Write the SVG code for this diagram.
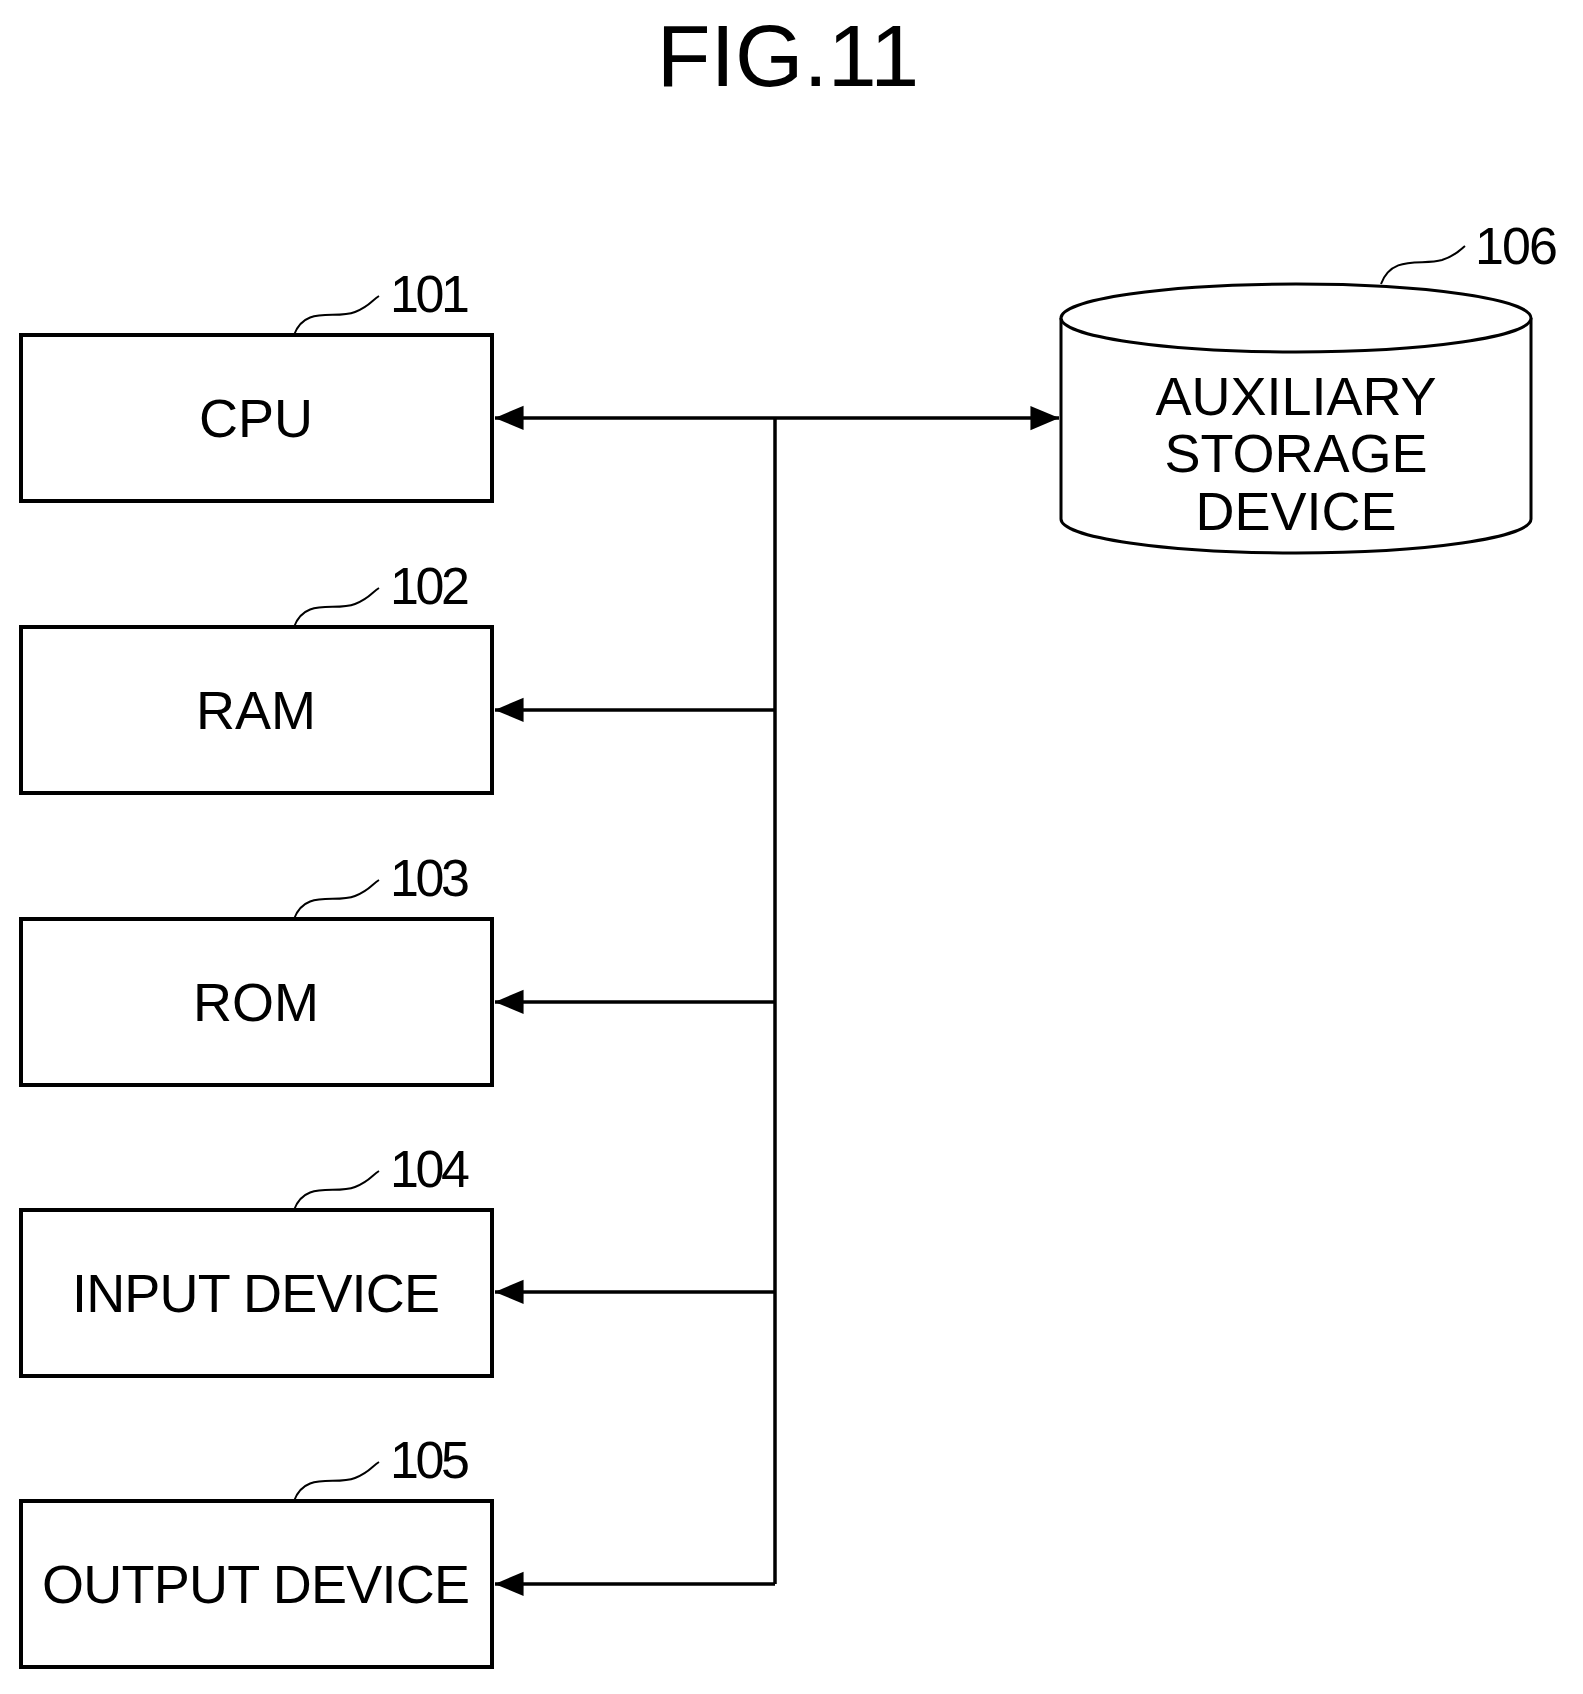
<svg xmlns="http://www.w3.org/2000/svg" width="1583" height="1694" viewBox="0 0 1583 1694">
<style>
text{font-family:"Liberation Sans",Arial,sans-serif;fill:#000}
.box{fill:#fff;stroke:#000;stroke-width:4}
.lbl{font-size:54px;text-anchor:middle}
.num{font-size:52px}
.lead{fill:none;stroke:#000;stroke-width:2}
.bus{fill:none;stroke:#000;stroke-width:3.5}
</style>
<defs>
<marker id="ah" viewBox="0 0 10 10" refX="10" refY="5" markerWidth="10" markerHeight="9" markerUnits="userSpaceOnUse" orient="auto" style="overflow:visible">
<path d="M0,0 L10,5 L0,10 z" fill="#000" transform="scale(3.2,2.7) translate(-6.8,-3.1)"/>
</marker>
</defs>
<rect width="1583" height="1694" fill="#fff"/>
<text x="788" y="86" font-size="88" text-anchor="middle">FIG.11</text>
<g id="cpu"><rect class="box" x="21" y="335" width="471" height="166"/><text class="lbl" x="256" y="437">CPU</text><path class="lead" d="M294,335 C305,305 335,320 355,312 C370,306 372,300 379,296"/><text class="num" x="390" y="312" textLength="80">101</text></g>
<g id="ram"><rect class="box" x="21" y="627" width="471" height="166"/><text class="lbl" x="256" y="729">RAM</text><path class="lead" d="M294,627 C305,597 335,612 355,604 C370,598 372,592 379,588"/><text class="num" x="390" y="604" textLength="80">102</text></g>
<g id="rom"><rect class="box" x="21" y="919" width="471" height="166"/><text class="lbl" x="256" y="1021">ROM</text><path class="lead" d="M294,919 C305,889 335,904 355,896 C370,890 372,884 379,880"/><text class="num" x="390" y="896" textLength="80">103</text></g>
<g id="input"><rect class="box" x="21" y="1210" width="471" height="166"/><text class="lbl" x="256" y="1312" textLength="368">INPUT DEVICE</text><path class="lead" d="M294,1210 C305,1180 335,1195 355,1187 C370,1181 372,1175 379,1171"/><text class="num" x="390" y="1187" textLength="80">104</text></g>
<g id="output"><rect class="box" x="21" y="1501" width="471" height="166"/><text class="lbl" x="256" y="1603" textLength="428">OUTPUT DEVICE</text><path class="lead" d="M294,1501 C305,1471 335,1486 355,1478 C370,1472 372,1466 379,1462"/><text class="num" x="390" y="1478" textLength="80">105</text></g>
<g id="aux">
<path d="M1061,318 L1061,519 A235,34 0 0 0 1531,519 L1531,318" fill="#fff" stroke="#000" stroke-width="3"/>
<ellipse cx="1296" cy="318" rx="235" ry="34" fill="#fff" stroke="#000" stroke-width="3"/>
<text class="lbl" x="1296" y="415">AUXILIARY</text>
<text class="lbl" x="1296" y="472">STORAGE</text>
<text class="lbl" x="1296" y="530">DEVICE</text>
<path class="lead" d="M1381,284 C1392,254 1422,266 1442,260 C1457,255 1460,250 1465,246"/>
<text class="num" x="1475" y="264" textLength="83">106</text>
</g>
<g id="connectors">
<path class="bus" d="M775,418 L775,1584"/>
<path class="bus" d="M775,418 L495,418" marker-end="url(#ah)"/>
<path class="bus" d="M775,418 L1059,418" marker-end="url(#ah)"/>
<path class="bus" d="M775,710 L495,710" marker-end="url(#ah)"/>
<path class="bus" d="M775,1002 L495,1002" marker-end="url(#ah)"/>
<path class="bus" d="M775,1292 L495,1292" marker-end="url(#ah)"/>
<path class="bus" d="M775,1584 L495,1584" marker-end="url(#ah)"/>
</g>
</svg>
